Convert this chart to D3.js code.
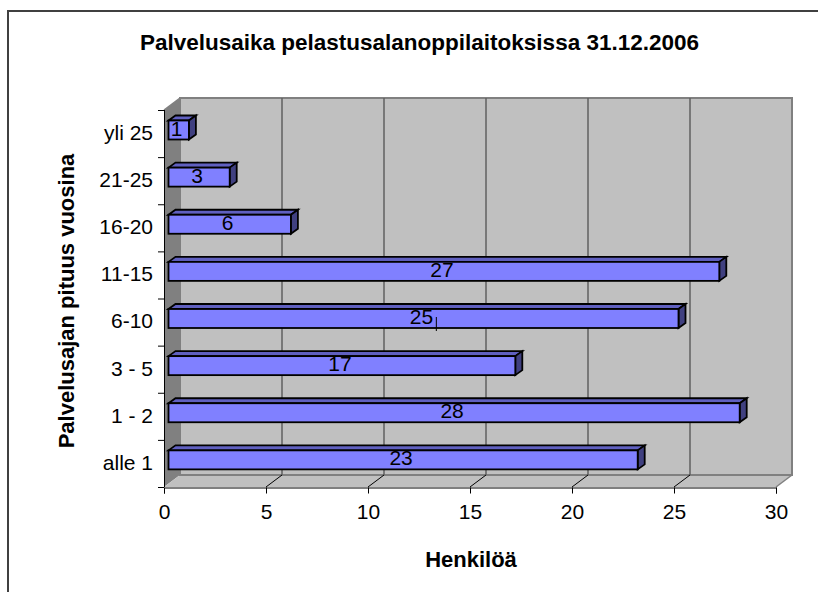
<!DOCTYPE html>
<html>
<head>
<meta charset="utf-8">
<script src="https://d3js.org/d3.v7.min.js"></script>
<style>
  html, body { margin: 0; padding: 0; background: #fff; }
  text { font-family: "Liberation Sans", Arial, sans-serif; fill: #000; }
</style>
</head>
<body>
<div id="chart"></div>
<script>
const categories = ["alle 1", "1 - 2", "3 - 5", "6-10", "11-15", "16-20", "21-25", "yli 25"];
const values = [23, 28, 17, 25, 27, 6, 3, 1];
const xTicks = [0, 5, 10, 15, 20, 25, 30];

const width = 818, height = 592;

const svg = d3.select("#chart")
    .append("svg")
    .attr("width", width)
    .attr("height", height)
    .style("display", "block");

// 3d offset between front plane and back wall
const dx = 16, dy = -12;

const x = d3.scaleLinear().domain([0, 30]).range([164, 776]);
const y = d3.scaleBand().domain(categories).range([487, 110]);
const top0 = y.range()[1], bottom0 = y.range()[0];

// outer frame
svg.append("path")
    .attr("d", "M8,592V11H818")
    .attr("fill", "none")
    .attr("stroke", "#404040")
    .attr("stroke-width", 2);

// title
svg.append("text")
    .attr("x", 419.5).attr("y", 50)
    .attr("text-anchor", "middle")
    .attr("font-size", 22.5).attr("font-weight", "bold")
    .text("Palvelusaika pelastusalanoppilaitoksissa 31.12.2006");

// side wall, floor, back wall
const wall = svg.append("g");
wall.append("polygon")
    .attr("points", [[x(0), top0], [x(0) + dx, top0 + dy], [x(0) + dx, bottom0 + dy], [x(0), bottom0]].join(" "))
    .attr("fill", "#808080");
wall.append("polygon")
    .attr("points", [[x(0), bottom0], [x(0) + dx, bottom0 + dy], [x(30) + dx, bottom0 + dy], [x(30), bottom0]].join(" "))
    .attr("fill", "#c0c0c0");
wall.append("rect")
    .attr("x", x(0) + dx).attr("y", top0 + dy)
    .attr("width", x(30) - x(0)).attr("height", bottom0 - top0)
    .attr("fill", "#c0c0c0")
    .attr("stroke", "#808080").attr("stroke-width", 2);
wall.append("line")
    .attr("x1", x(30)).attr("y1", bottom0)
    .attr("x2", x(30) + dx).attr("y2", bottom0 + dy)
    .attr("stroke", "#808080").attr("stroke-width", 1.5);
wall.append("line")
    .attr("x1", x(0)).attr("y1", top0)
    .attr("x2", x(0) + dx).attr("y2", top0 + dy)
    .attr("stroke", "#808080").attr("stroke-width", 1.5);

// gridlines on the back wall, with the little floor lines
const grid = svg.append("g");
grid.selectAll(".grid")
    .data(xTicks.slice(1, -1))
    .enter().append("line")
    .attr("x1", d => x(d) + dx).attr("x2", d => x(d) + dx)
    .attr("y1", top0 + dy).attr("y2", bottom0 + dy)
    .attr("stroke", "#606060").attr("stroke-width", 1.5);
grid.selectAll(".floor")
    .data(xTicks.slice(1, -1))
    .enter().append("line")
    .attr("x1", d => x(d)).attr("x2", d => x(d) + dx)
    .attr("y1", bottom0).attr("y2", bottom0 + dy)
    .attr("stroke", "#000").attr("stroke-width", 1);

// axes
const xAxis = d3.axisBottom(x).tickValues(xTicks).tickSizeOuter(0).tickSize(6).tickPadding(10.5);
const gx = svg.append("g").attr("transform", `translate(0,${bottom0 + 0.5})`).call(xAxis);
gx.selectAll("text").attr("font-size", 21).style("font-family", null);
gx.selectAll("line").attr("stroke", "#000");
gx.select(".domain").attr("stroke", "#000");

const yAxis = d3.axisLeft(y).tickSize(0).tickPadding(11);
const gy = svg.append("g").attr("transform", `translate(${x(0)},0)`).call(yAxis);
gy.selectAll("text").attr("font-size", 21).attr("dy", "0.3em");
gy.select(".domain").attr("stroke", "#000").attr("d", `M0.5,${top0}V${bottom0}`);
// tick marks sit between the categories
svg.append("g").selectAll("line")
    .data(categories)
    .enter().append("line")
    .attr("x1", x(0) - 6).attr("x2", x(0))
    .attr("y1", d => y(d) + 0.5).attr("y2", d => y(d) + 0.5)
    .attr("stroke", "#000");
svg.append("line")
    .attr("x1", x(0) - 6).attr("x2", x(0))
    .attr("y1", bottom0 + 0.5).attr("y2", bottom0 + 0.5)
    .attr("stroke", "#000");

// bars
const barH = 19, barIn = 4.5, bdx = 7, bdy = -5;
const bars = svg.append("g").selectAll("g")
    .data(values)
    .enter().append("g");
const bx = () => x(0) + barIn;
const by = (d, i) => y(categories[i]) + 10.5;
const bw = d => x(d) - x(0);

bars.append("polygon") // top face
    .attr("points", (d, i) => [[bx(), by(d, i)], [bx() + bdx, by(d, i) + bdy], [bx() + bw(d) + bdx, by(d, i) + bdy], [bx() + bw(d), by(d, i)]].join(" "))
    .attr("fill", "#6060c0").attr("stroke", "#000").attr("stroke-width", 1.8);
bars.append("polygon") // right face
    .attr("points", (d, i) => [[bx() + bw(d), by(d, i)], [bx() + bw(d) + bdx, by(d, i) + bdy], [bx() + bw(d) + bdx, by(d, i) + bdy + barH], [bx() + bw(d), by(d, i) + barH]].join(" "))
    .attr("fill", "#404080").attr("stroke", "#000").attr("stroke-width", 1.8);
bars.append("rect") // front
    .attr("x", bx()).attr("y", by)
    .attr("width", bw).attr("height", barH)
    .attr("fill", "#8080ff").attr("stroke", "#000").attr("stroke-width", 1.8);

// value labels
svg.append("g").selectAll("text")
    .data(values)
    .enter().append("text")
    .attr("x", d => bx() + bw(d) / 2 - 2)
    .attr("y", (d, i) => by(d, i) + 15)
    .attr("text-anchor", "middle")
    .attr("font-size", 21)
    .attr("fill", "#000")
    .text(d => d);

// stray mark beside the 25 label
const stray = categories.indexOf("6-10");
svg.append("line")
    .attr("x1", x(13.35)).attr("x2", x(13.35))
    .attr("y1", y(categories[stray]) + 18.5).attr("y2", y(categories[stray]) + 32.5)
    .attr("stroke", "#000");

// axis titles
svg.append("text")
    .attr("x", 471).attr("y", 567)
    .attr("text-anchor", "middle")
    .attr("font-size", 22).attr("font-weight", "bold")
    .text("Henkilöä");
svg.append("text")
    .attr("transform", "translate(74,301) rotate(-90)")
    .attr("text-anchor", "middle")
    .attr("font-size", 22).attr("font-weight", "bold")
    .text("Palvelusajan pituus vuosina");
</script>
</body>
</html>
